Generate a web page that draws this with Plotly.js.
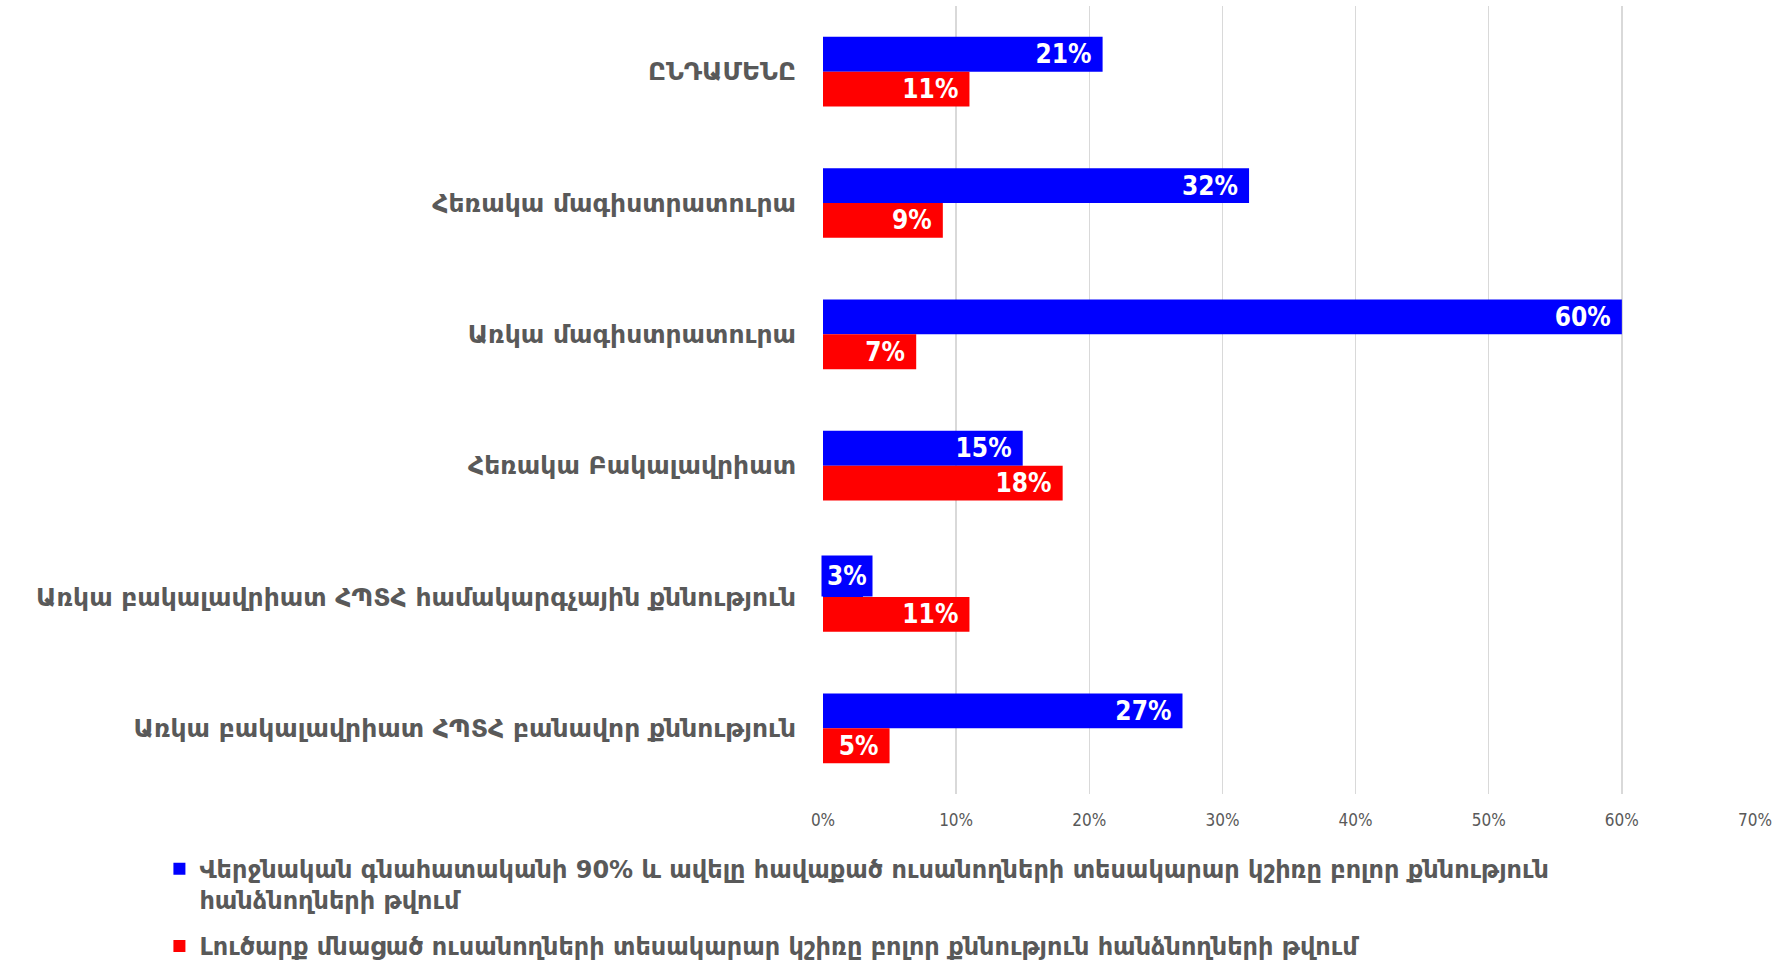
<!DOCTYPE html>
<html>
<head>
<meta charset="utf-8">
<script src="https://cdn.plot.ly/plotly-3.0.1.min.js"></script>
<style>html,body{margin:0;padding:0;background:#fff;}#chart{width:1775px;height:962px;}</style>
</head>
<body>
<div id="chart"></div>
<script>
const categories = [
  "ԸՆԴԱՄԵՆԸ",
  "Հեռակա մագիստրատուրա",
  "Առկա մագիստրատուրա",
  "Հեռակա Բակալավրիատ",
  "Առկա բակալավրիատ ՀՊՏՀ համակարգչային քննություն",
  "Առկա բակալավրիատ ՀՊՏՀ բանավոր քննություն"
];
const seriesNames = [
  "Վերջնական գնահատականի 90% և ավելը հավաքած ուսանողների տեսակարար կշիռը բոլոր քննություն<br>հանձնողների թվում",
  "Լուծարք մնացած ուսանողների տեսակարար կշիռը բոլոր քննություն հանձնողների թվում"
];
const blueValues = [0.21, 0.32, 0.60, 0.15, 0.03, 0.27];
const redValues  = [0.11, 0.09, 0.07, 0.18, 0.11, 0.05];
const tickVals = [0, 0.1, 0.2, 0.3, 0.4, 0.5, 0.6, 0.7];
const tickText = ["0%", "10%", "20%", "30%", "40%", "50%", "60%", "70%"];

const labelFont = {family: "DejaVu Sans Condensed, DejaVu Sans", size: 26, color: "#ffffff", weight: "bold"};
function pctLabel(v){ return Math.round(v*100) + "%"; }
// bars too short to hold their label get it as a filled call-out instead
const minInside = 0.05;
function barText(a){ return a.map(v => v >= minInside ? pctLabel(v) + "\u00a0" : ""); }

const traces = [
  {type: "bar", orientation: "h", name: seriesNames[0], legendgroup: "a", y: categories, x: blueValues,
   marker: {color: "#0000ff"}, text: barText(blueValues), textposition: "inside",
   insidetextanchor: "end", constraintext: "none", textfont: labelFont, hoverinfo: "x+y"},
  {type: "bar", orientation: "h", name: seriesNames[1], legendgroup: "b", y: categories, x: redValues,
   marker: {color: "#ff0000"}, text: barText(redValues), textposition: "inside",
   insidetextanchor: "end", constraintext: "none", textfont: labelFont, hoverinfo: "x+y"}
];

const annotations = [];
blueValues.forEach((v, i) => {
  if (v < minInside) {
    annotations.push({x: 0, y: categories[i], xref: "x", yref: "y", xanchor: "left", yanchor: "bottom",
      xshift: -2, yshift: 0, text: pctLabel(v), showarrow: false, bgcolor: "#0000ff",
      borderpad: 5, font: labelFont});
  }
});

const layout = {
  width: 1775, height: 962,
  margin: {l: 823, r: 20, t: 6, b: 168},
  paper_bgcolor: "#ffffff", plot_bgcolor: "#ffffff",
  barmode: "group", bargap: 0.47, bargroupgap: 0,
  font: {family: "DejaVu Sans, DejaVu Sans Condensed", color: "#595959"},
  xaxis: {range: [0, 0.7], tickvals: tickVals, ticktext: tickText,
          showgrid: true, gridcolor: "#d9d9d9", gridwidth: 1.5,
          zeroline: false, showline: false, ticks: "",
          tickfont: {family: "DejaVu Sans Condensed, DejaVu Sans", size: 17, color: "#595959"},
          ticklabelstandoff: 14},
  yaxis: {autorange: "reversed", showgrid: false, zeroline: false, showline: false, ticks: "",
          tickfont: {family: "DejaVu Sans, DejaVu Sans Condensed", size: 25, color: "#595959", weight: "bold"},
          ticklabelstandoff: 26},
  annotations: annotations,
  showlegend: true,
  legend: {orientation: "v", x: -0.712, xanchor: "left", xref: "paper", y: 0.12, yanchor: "top", yref: "container", valign: "top",
           font: {family: "DejaVu Sans, DejaVu Sans Condensed", size: 24, color: "#595959", weight: "bold"},
           traceorder: "grouped", tracegroupgap: 12, itemwidth: 30, bgcolor: "rgba(0,0,0,0)"}
};

Plotly.newPlot("chart", traces, layout, {displayModeBar: false, staticPlot: true});
</script>
</body>
</html>
